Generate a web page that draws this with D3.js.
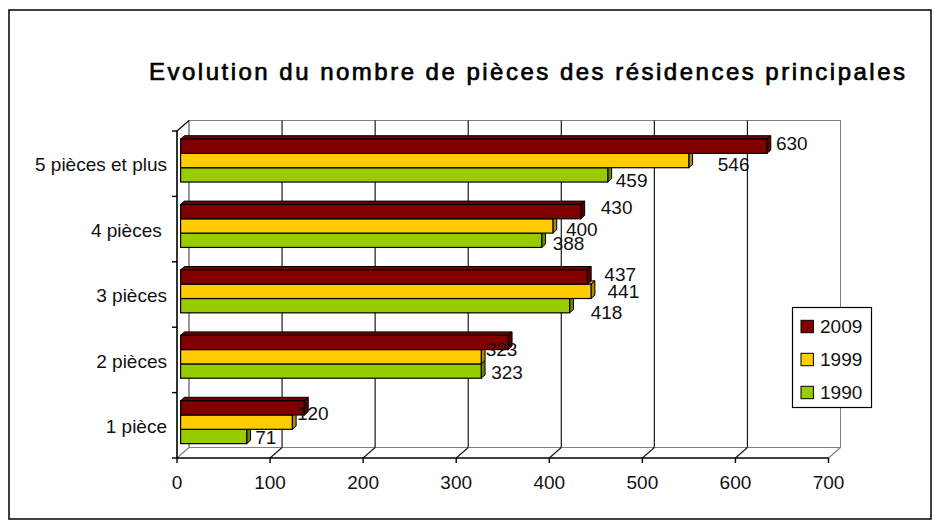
<!DOCTYPE html>
<html>
<head>
<meta charset="utf-8">
<script src="https://cdn.jsdelivr.net/npm/d3@7"></script>
<style>
  html, body { margin: 0; padding: 0; background: #fff; }
  svg { display: block; }
  text { font-family: "Liberation Sans", Arial, sans-serif; fill: #111; }
</style>
</head>
<body>
<svg id="chart" width="940" height="526"></svg>
<script>
// Number of main residences by number of rooms (thousands of dwellings)
const categories = ["5 pièces et plus", "4 pièces ", "3 pièces", "2 pièces", "1 pièce"];
const seriesNames = ["2009", "1999", "1990"];
const values2009 = [630, 430, 437, 352, 133];
const values1999 = [546, 400, 441, 323, 120];
const values1990 = [459, 388, 418, 323, 71];
// which bars carry a value label
const shown2009 = [true, true, true, false, false];
const shown1999 = [true, true, true, true, true];
const shown1990 = [true, true, true, true, true];
const xTicks = [0, 100, 200, 300, 400, 500, 600, 700];
const titleText = "Evolution du nombre de pièces des résidences principales";

// label placement nudges [dx, dy] relative to the bar end
const nudge2009 = [[5, -2.5], [16, -4.6], [13, -2.6], [0, 0], [0, 0]];
const nudge1999 = [[25, 4.2], [9, 3.8], [12.5, 0.2], [0.5, -7.5], [0.7, -9.2]];
const nudge1990 = [[4, 5.6], [7, 2.8], [17, 6.8], [6, 1.5], [4.5, 0.5]];

const seriesColor = { "2009": "#800000", "1999": "#FFCC00", "1990": "#99CC00" };
const seriesValues = { "2009": values2009, "1999": values1999, "1990": values1990 };
const seriesShown = { "2009": shown2009, "1999": shown1999, "1990": shown1990 };
const seriesNudge = { "2009": nudge2009, "1999": nudge1999, "1990": nudge1990 };

const svg = d3.select("#chart");

// frame around the whole chart
svg.append("rect")
  .attr("x", 9).attr("y", 10).attr("width", 922).attr("height", 509)
  .attr("fill", "#fff").attr("stroke", "#000").attr("stroke-width", 1.5);

// title
svg.append("text")
  .attr("x", 149).attr("y", 80)
  .attr("textLength", 756).attr("lengthAdjust", "spacing")
  .style("font-family", "'Liberation Sans', sans-serif")
  .style("font-size", "24px")
  .style("fill", "#000")
  .style("stroke", "#000")
  .style("stroke-width", "0.7px")
  .text(titleText);

// 3D plot geometry: front plane plus a depth offset towards the back wall
const DX = 12, DY = -10.5;
const Z0 = 0.3, Z1 = 0.62;   // front and back faces of the bars
const x = d3.scaleLinear().domain([0, 700]).range([177, 828.5]);
const y = d3.scaleBand().domain(categories).range([131, 458])
  .paddingInner(0.343).paddingOuter(0.1715);
const ys = d3.scaleBand().domain(seriesNames).range([0, y.bandwidth()]);

const yTop = 131, yBot = 458;
const x0 = x(0), x1 = x(700);
const gray = "#808080";
const walls = svg.append("g");

// back wall
walls.append("rect")
  .attr("x", x0 + DX).attr("y", yTop + DY)
  .attr("width", x1 - x0).attr("height", yBot - yTop)
  .attr("fill", "#fff").attr("stroke", gray).attr("stroke-width", 1);
// left wall back edge
walls.append("line")
  .attr("x1", x0 + DX).attr("y1", yTop + DY).attr("x2", x0 + DX).attr("y2", yBot + DY)
  .attr("stroke", gray).attr("stroke-width", 1.2);
// left wall top edge
walls.append("line")
  .attr("x1", x0).attr("y1", yTop).attr("x2", x0 + DX).attr("y2", yTop + DY)
  .attr("stroke", "#000").attr("stroke-width", 1.2);
// floor edges
walls.append("line")
  .attr("x1", x0).attr("y1", yBot).attr("x2", x0 + DX).attr("y2", yBot + DY)
  .attr("stroke", gray).attr("stroke-width", 1.2);
walls.append("line")
  .attr("x1", x1).attr("y1", yBot).attr("x2", x1 + DX).attr("y2", yBot + DY)
  .attr("stroke", gray).attr("stroke-width", 1.2);

// value gridlines on the back wall and along the floor
const inner = xTicks.filter(v => v > 0 && v < 700);
walls.selectAll("line.grid").data(inner).enter().append("line")
  .attr("class", "grid")
  .attr("x1", d => x(d) + DX).attr("x2", d => x(d) + DX)
  .attr("y1", yTop + DY).attr("y2", yBot + DY)
  .attr("stroke", "#1a1a1a").attr("stroke-width", 1.2);
walls.selectAll("line.floor").data(inner).enter().append("line")
  .attr("class", "floor")
  .attr("x1", d => x(d)).attr("x2", d => x(d) + DX)
  .attr("y1", yBot).attr("y2", yBot + DY)
  .attr("stroke", "#1a1a1a").attr("stroke-width", 1.2);

// front axes
const axes = svg.append("g");
axes.append("line")
  .attr("x1", x0).attr("y1", yTop).attr("x2", x0).attr("y2", yBot)
  .attr("stroke", "#000").attr("stroke-width", 1.6);
axes.append("line")
  .attr("x1", x0).attr("y1", yBot).attr("x2", x1).attr("y2", yBot)
  .attr("stroke", "#000").attr("stroke-width", 1.6);
// category boundaries as ticks
const bounds = categories.map(c => y(c) - y.step() * y.paddingInner() / 2).concat([yBot]);
axes.selectAll("line.ctick").data(bounds).enter().append("line")
  .attr("x1", x0 - 5).attr("x2", x0)
  .attr("y1", d => d).attr("y2", d => d)
  .attr("stroke", "#000").attr("stroke-width", 1.4);
axes.selectAll("line.vtick").data(xTicks).enter().append("line")
  .attr("x1", d => x(d)).attr("x2", d => x(d))
  .attr("y1", yBot).attr("y2", yBot + 5)
  .attr("stroke", "#000").attr("stroke-width", 1.4);

// value axis labels
axes.selectAll("text.vlab").data(xTicks).enter().append("text")
  .attr("x", d => x(d)).attr("y", 489)
  .attr("text-anchor", "middle")
  .style("font-size", "19px")
  .text(d => d);

// category labels
axes.selectAll("text.clab").data(categories).enter().append("text")
  .attr("x", 167).attr("y", d => y(d) + y.bandwidth() / 2 + 1)
  .attr("dy", "0.35em")
  .attr("text-anchor", "end")
  .style("font-size", "19px")
  .style("white-space", "pre")
  .text(d => d);

// bars, drawn from the bottom up so upper bars cover the top faces below
const ddx = (Z1 - Z0) * DX, ddy = (Z1 - Z0) * DY;
const barData = [];
categories.slice().reverse().forEach(cat => {
  const ci = categories.indexOf(cat);
  seriesNames.slice().reverse().forEach(s => {
    barData.push({ cat, s, v: seriesValues[s][ci], shown: seriesShown[s][ci], nudge: seriesNudge[s][ci] });
  });
});

const darker = (c, k) => d3.color(c).darker(k).formatHex();
const bars = svg.append("g");
barData.forEach(d => {
  const g = bars.append("g");
  const bx0 = x(0) + Z0 * DX;
  const bx1 = x(d.v) + Z0 * DX;
  const by0 = y(d.cat) + ys(d.s) + Z0 * DY;
  const h = ys.bandwidth();
  const col = seriesColor[d.s];
  g.append("polygon")
    .attr("points", [[bx0, by0], [bx1, by0], [bx1 + ddx, by0 + ddy], [bx0 + ddx, by0 + ddy]].join(" "))
    .attr("fill", darker(col, 0.3)).attr("stroke", "#000").attr("stroke-width", 1).attr("stroke-linejoin", "round");
  g.append("polygon")
    .attr("points", [[bx1, by0], [bx1 + ddx, by0 + ddy], [bx1 + ddx, by0 + h + ddy], [bx1, by0 + h]].join(" "))
    .attr("fill", darker(col, 1.1)).attr("stroke", "#000").attr("stroke-width", 1).attr("stroke-linejoin", "round");
  g.append("rect")
    .attr("x", bx0).attr("y", by0).attr("width", bx1 - bx0).attr("height", h)
    .attr("fill", col).attr("stroke", "#000").attr("stroke-width", 1.2);
});

// value labels
const labels = svg.append("g");
barData.filter(d => d.shown).forEach(d => {
  labels.append("text")
    .attr("x", x(d.v) + Z0 * DX + 4 + d.nudge[0])
    .attr("y", y(d.cat) + ys(d.s) + Z0 * DY + ys.bandwidth() / 2 + d.nudge[1])
    .attr("dy", "0.35em")
    .style("font-size", "19px")
    .text(d.v);
});

// legend
const legend = svg.append("g");
legend.append("rect")
  .attr("x", 792.5).attr("y", 307.5).attr("width", 79).attr("height", 100)
  .attr("fill", "#fff").attr("stroke", "#000").attr("stroke-width", 1.2);
seriesNames.forEach((s, i) => {
  const cy = 326.5 + i * 33;
  legend.append("rect")
    .attr("x", 801).attr("y", cy - 6.2).attr("width", 12.4).attr("height", 12.4)
    .attr("fill", seriesColor[s]).attr("stroke", "#000").attr("stroke-width", 1);
  legend.append("text")
    .attr("x", 820).attr("y", cy).attr("dy", "0.35em")
    .style("font-size", "19px")
    .text(s);
});
</script>
</body>
</html>
